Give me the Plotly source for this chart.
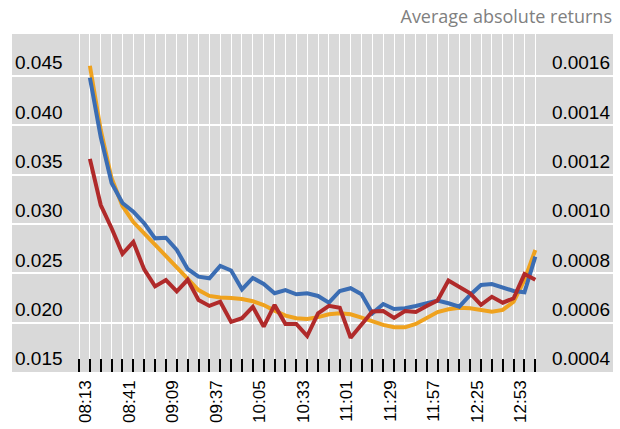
import plotly.graph_objects as go

# Time categories (7-minute buckets)
times = ["08:13", "08:20", "08:27", "08:34", "08:41", "08:48", "08:55", "09:02", "09:09", "09:16",
         "09:23", "09:30", "09:37", "09:44", "09:51", "09:58", "10:05", "10:12", "10:19", "10:26",
         "10:33", "10:40", "10:47", "10:54", "11:01", "11:08", "11:15", "11:22", "11:29", "11:36",
         "11:43", "11:50", "11:57", "12:04", "12:11", "12:18", "12:25", "12:32", "12:39", "12:46",
         "12:53", "13:00"]
# Category boundaries used for grid lines / tick marks
grid_times = ["08:06"] + times
tick_labels = [t if (i - 1) % 4 == 0 and i >= 1 else "" for i, t in enumerate(grid_times)]

# Left axis series
blue = [0.04483, 0.03882, 0.03416, 0.03213, 0.03125, 0.03007, 0.02855, 0.02861, 0.02737, 0.02544,
        0.02466, 0.02450, 0.02575, 0.02529, 0.02338, 0.02453, 0.02392, 0.02298, 0.02331, 0.02288,
        0.02298, 0.02271, 0.02203, 0.02321, 0.02349, 0.02288, 0.02095, 0.02189, 0.02139, 0.02146,
        0.02169, 0.02197, 0.02225, 0.02197, 0.02162, 0.02281, 0.02382, 0.02392, 0.02355, 0.02321,
        0.02308, 0.02669]
orange = [0.04604, 0.03953, 0.03463, 0.03183, 0.03020, 0.02906, 0.02794, 0.02686, 0.02567, 0.02448,
          0.02331, 0.02271, 0.02255, 0.02250, 0.02240, 0.02217, 0.02179, 0.02122, 0.02071, 0.02045,
          0.02037, 0.02056, 0.02085, 0.02095, 0.02085, 0.02051, 0.02010, 0.01977, 0.01953, 0.01953,
          0.01987, 0.02051, 0.02108, 0.02136, 0.02152, 0.02146, 0.02129, 0.02111, 0.02129, 0.02213,
          0.02433, 0.02737]
# Right axis series
red = [0.001264, 0.001077, 0.000983, 0.000879, 0.000927, 0.000816, 0.000747, 0.000773, 0.000727, 0.000774,
       0.000692, 0.000668, 0.000685, 0.000603, 0.000618, 0.000664, 0.000584, 0.000672, 0.000595, 0.000595,
       0.000546, 0.000638, 0.000668, 0.000660, 0.000539, 0.000589, 0.000645, 0.000647, 0.000619, 0.000647,
       0.000643, 0.000668, 0.000690, 0.000771, 0.000746, 0.000719, 0.000672, 0.000705, 0.000681, 0.000699,
       0.000797, 0.000774]

left_ticks = [0.015, 0.020, 0.025, 0.030, 0.035, 0.040, 0.045]
right_ticks = [0.0004, 0.0006, 0.0008, 0.0010, 0.0012, 0.0014, 0.0016]

day = "2000-01-01 "
x = [day + t for t in times]
xt = [day + t for t in grid_times]

fig = go.Figure()
fig.add_trace(go.Scatter(x=x, y=orange, mode="lines", line=dict(color="#efa21e", width=4), yaxis="y"))
fig.add_trace(go.Scatter(x=x, y=blue, mode="lines", line=dict(color="#3b6db3", width=4), yaxis="y"))
fig.add_trace(go.Scatter(x=x, y=red, mode="lines", line=dict(color="#b02a2a", width=4), yaxis="y2"))

font_family = "Liberation Sans, Arial, sans-serif"
fig.update_layout(
    width=620, height=429,
    margin=dict(l=12, r=7, t=34, b=57),
    paper_bgcolor="white",
    plot_bgcolor="#d9d9d9",
    showlegend=False,
    title=dict(text="Average absolute returns", xref="container", yref="container",
               x=612 / 620, xanchor="right", y=1 - 17 / 429, yanchor="middle",
               font=dict(family="Open Sans, sans-serif", size=18, color="#808080")),
    xaxis=dict(type="date", range=[day + "07:22:50", day + "13:50:02"],
               tickmode="array", tickvals=xt, ticktext=tick_labels,
               tickangle=-90, ticks="inside", ticklen=13, tickwidth=2, tickcolor="black",
               showgrid=True, gridcolor="white", gridwidth=1.3,
               zeroline=False, showline=False,
               tickfont=dict(family=font_family, size=17, color="black"),
               ticklabelshift=-4, ticklabelstandoff=4),
    yaxis=dict(range=[0.015, 0.04926], tickmode="array", tickvals=left_ticks, tickformat=".3f",
               ticklabelposition="inside top", showgrid=True, gridcolor="white", gridwidth=2,
               zeroline=False, showline=False, ticks="",
               tickfont=dict(family=font_family, size=19, color="black")),
    yaxis2=dict(range=[0.0004, 0.0017704], overlaying="y", side="right", tickmode="array",
                tickvals=right_ticks, tickformat=".4f", ticklabelposition="inside top",
                showgrid=False, zeroline=False, showline=False, ticks="",
                tickfont=dict(family=font_family, size=19, color="black")),
)

fig.write_html("out.html", config={"displayModeBar": False},
               post_script="document.body.style.margin='0';")
